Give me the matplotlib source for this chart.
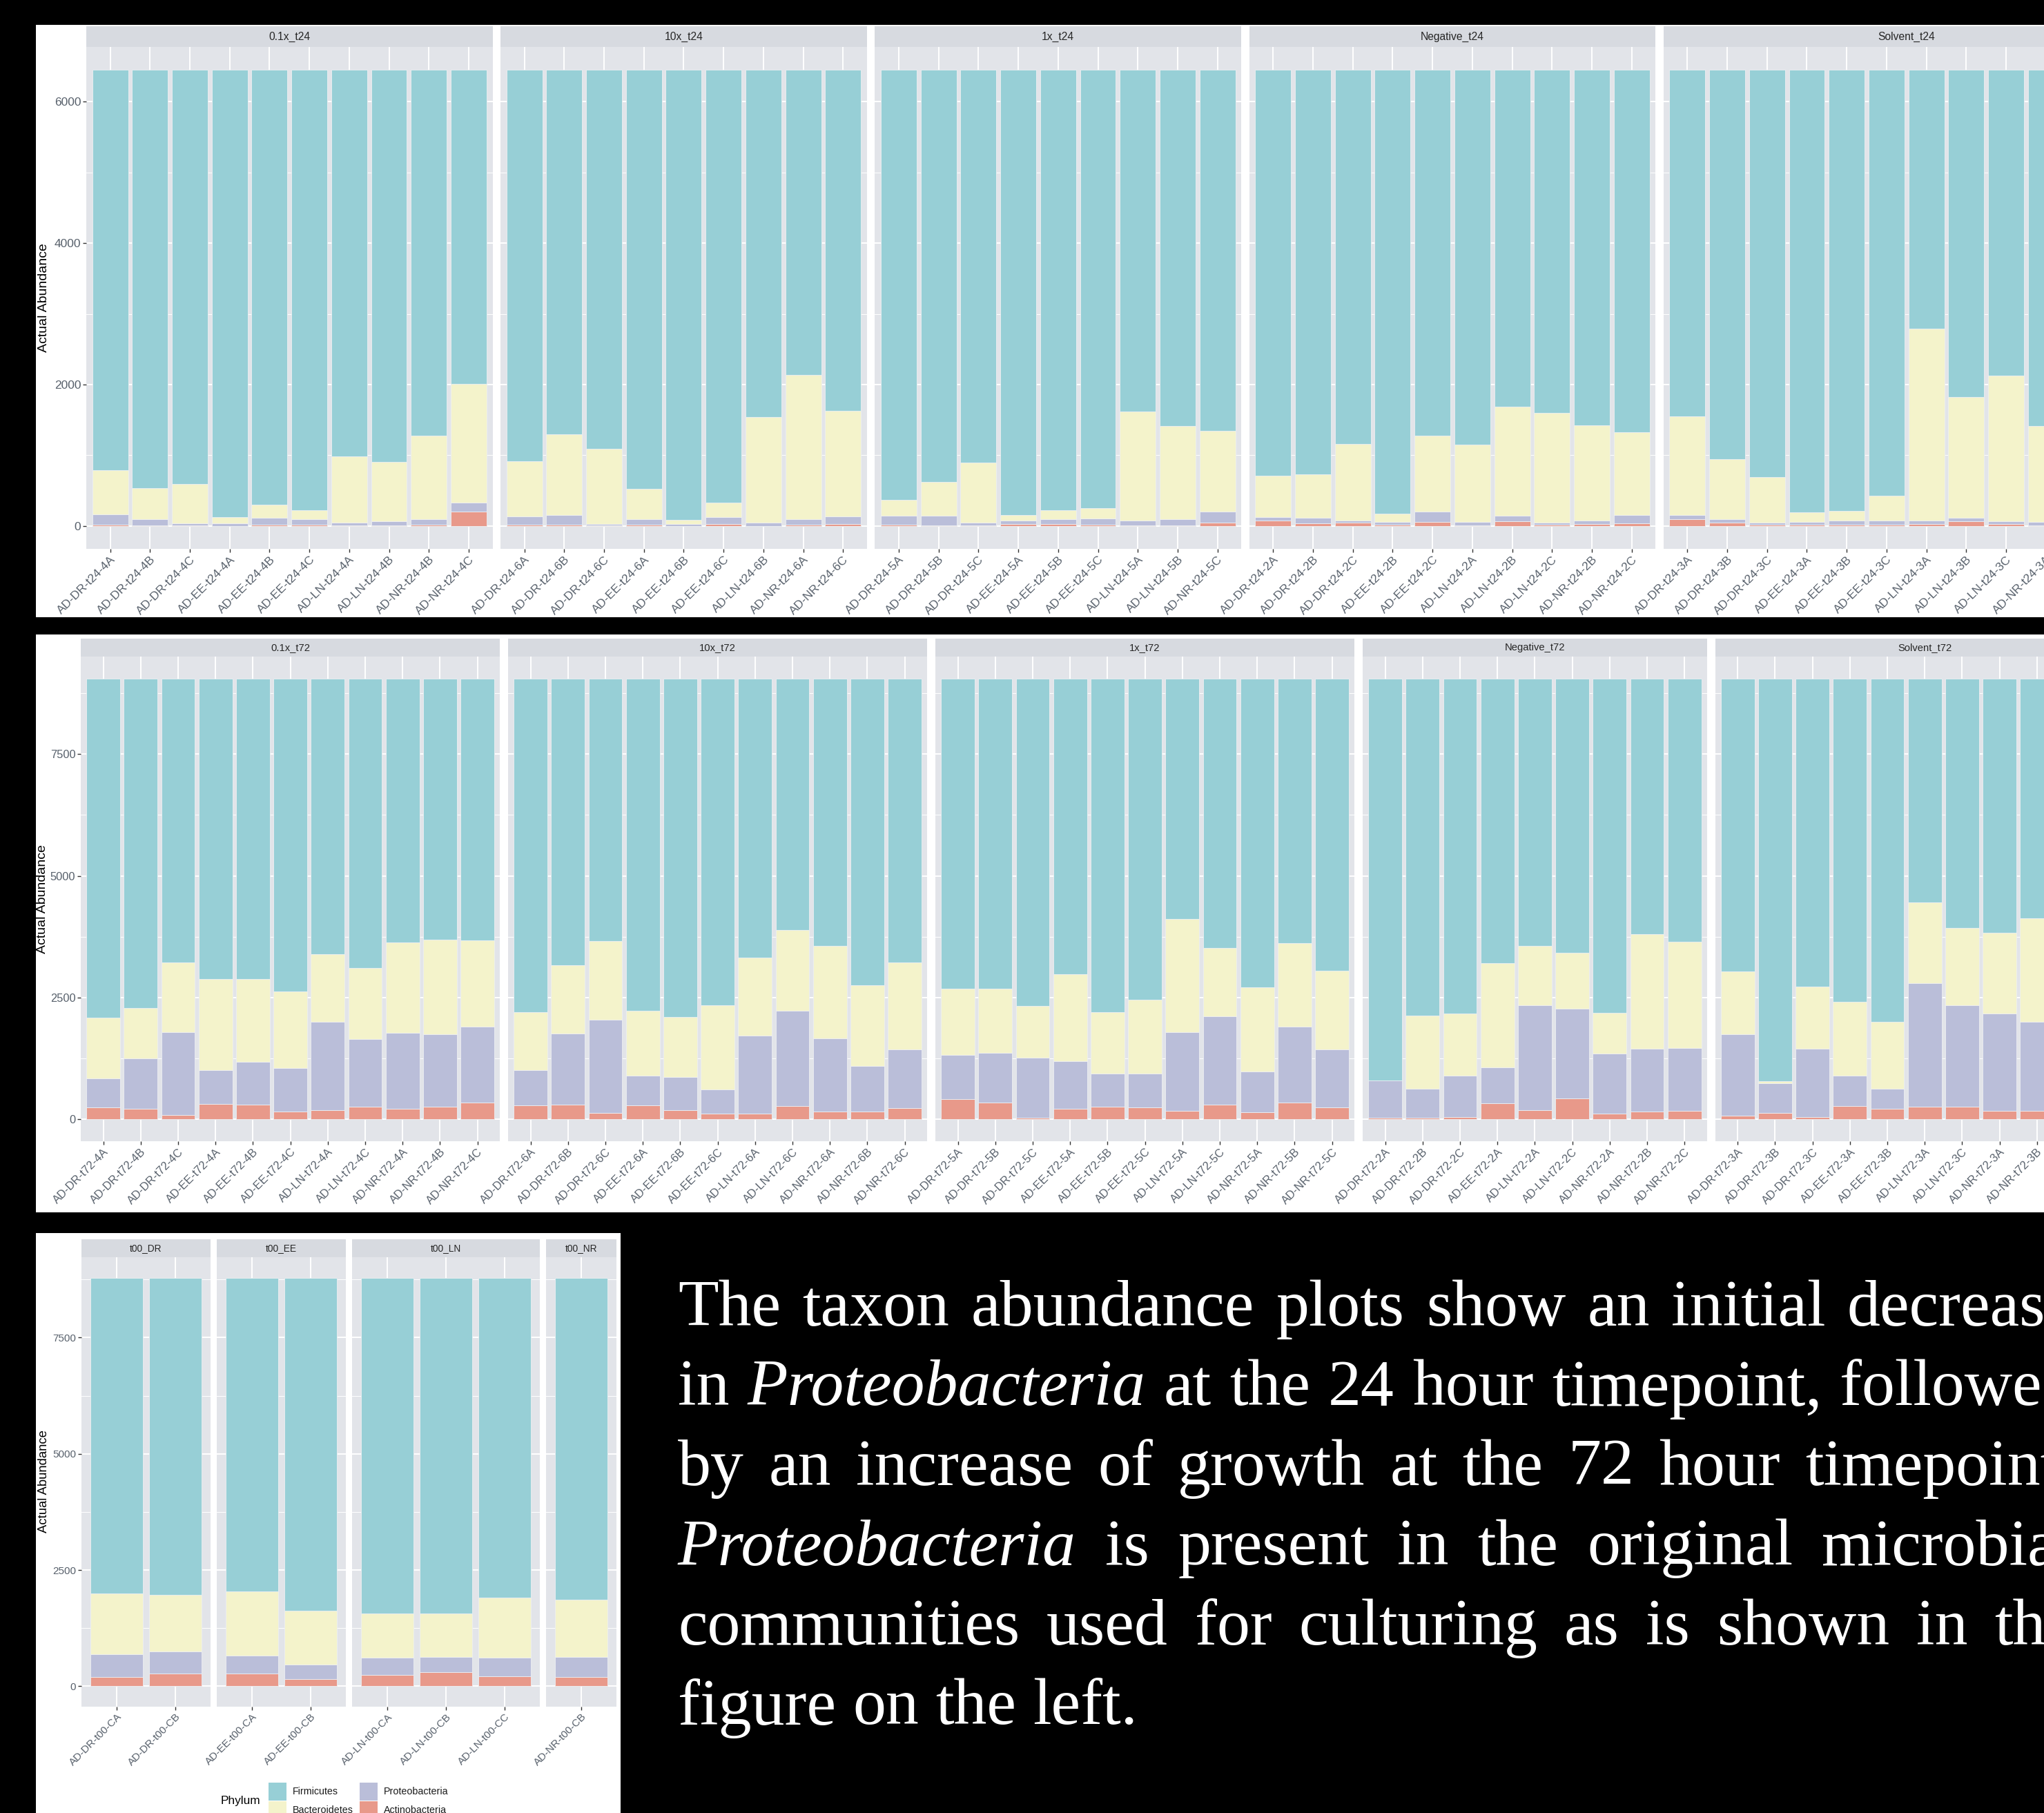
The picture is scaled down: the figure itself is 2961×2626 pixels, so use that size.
import numpy as np
import matplotlib.pyplot as plt
from matplotlib.patches import Rectangle
from matplotlib.ticker import FixedLocator

plt.rcParams['font.family'] = ['Liberation Sans', 'DejaVu Sans']

# ---------------- data ----------------
phyla = ['Firmicutes', 'Bacteroidetes', 'Proteobacteria', 'Actinobacteria']
phylum_colors = ['#97CFD6', '#F4F3CB', '#BABED9', '#E8998A']

t24_facets = ['0.1x_t24', '10x_t24', '1x_t24', 'Negative_t24', 'Solvent_t24']
t24_samples = [
    ['AD-DR-t24-4A', 'AD-DR-t24-4B', 'AD-DR-t24-4C', 'AD-EE-t24-4A', 'AD-EE-t24-4B',
     'AD-EE-t24-4C', 'AD-LN-t24-4A', 'AD-LN-t24-4B', 'AD-NR-t24-4B', 'AD-NR-t24-4C'],
    ['AD-DR-t24-6A', 'AD-DR-t24-6B', 'AD-DR-t24-6C', 'AD-EE-t24-6A', 'AD-EE-t24-6B',
     'AD-EE-t24-6C', 'AD-LN-t24-6B', 'AD-NR-t24-6A', 'AD-NR-t24-6C'],
    ['AD-DR-t24-5A', 'AD-DR-t24-5B', 'AD-DR-t24-5C', 'AD-EE-t24-5A', 'AD-EE-t24-5B',
     'AD-EE-t24-5C', 'AD-LN-t24-5A', 'AD-LN-t24-5B', 'AD-NR-t24-5C'],
    ['AD-DR-t24-2A', 'AD-DR-t24-2B', 'AD-DR-t24-2C', 'AD-EE-t24-2B', 'AD-EE-t24-2C',
     'AD-LN-t24-2A', 'AD-LN-t24-2B', 'AD-LN-t24-2C', 'AD-NR-t24-2B', 'AD-NR-t24-2C'],
    ['AD-DR-t24-3A', 'AD-DR-t24-3B', 'AD-DR-t24-3C', 'AD-EE-t24-3A', 'AD-EE-t24-3B',
     'AD-EE-t24-3C', 'AD-LN-t24-3A', 'AD-LN-t24-3B', 'AD-LN-t24-3C', 'AD-NR-t24-3A'],
]
t24_firmicutes = [
    [5657, 5912, 5860, 6319, 6152, 6230, 5460, 5545, 5171, 4440],
    [5529, 5148, 5355, 5919, 6358, 6116, 4912, 4316, 4817],
    [6083, 5830, 5552, 6299, 6230, 6198, 4830, 5034, 5102],
    [5742, 5716, 5289, 6270, 5171, 5302, 4765, 4853, 5030, 5122],
    [4902, 5506, 5758, 6260, 6237, 6020, 3657, 4627, 4325, 5037],
]
t24_bacteroidetes = [
    [623, 440, 551, 92, 180, 125, 938, 833, 1177, 1676],
    [783, 1148, 1062, 433, 59, 206, 1486, 2039, 1499],
    [223, 476, 846, 76, 122, 144, 1545, 1321, 1148],
    [577, 616, 1082, 121, 1079, 1089, 1541, 1545, 1338, 1171],
    [1397, 846, 640, 134, 134, 351, 2711, 1708, 2059, 1351],
]
t24_proteobacteria = [
    [154, 93, 26, 36, 98, 79, 47, 67, 82, 127],
    [122, 138, 23, 82, 30, 98, 49, 75, 104],
    [128, 137, 39, 45, 72, 92, 68, 85, 148],
    [52, 79, 30, 39, 144, 49, 75, 29, 49, 121],
    [53, 52, 29, 36, 63, 63, 52, 46, 33, 52],
]
t24_actinobacteria = [
    [16, 5, 13, 3, 20, 16, 5, 5, 20, 207],
    [16, 16, 10, 16, 3, 30, 3, 20, 30],
    [16, 7, 13, 30, 26, 16, 7, 10, 52],
    [79, 39, 49, 20, 56, 10, 69, 23, 33, 36],
    [98, 46, 23, 20, 16, 16, 30, 69, 33, 10],
]

t72_facets = ['0.1x_t72', '10x_t72', '1x_t72', 'Negative_t72', 'Solvent_t72']
t72_samples = [
    ['AD-DR-t72-4A', 'AD-DR-t72-4B', 'AD-DR-t72-4C', 'AD-EE-t72-4A', 'AD-EE-t72-4B', 'AD-EE-t72-4C',
     'AD-LN-t72-4A', 'AD-LN-t72-4C', 'AD-NR-t72-4A', 'AD-NR-t72-4B', 'AD-NR-t72-4C'],
    ['AD-DR-t72-6A', 'AD-DR-t72-6B', 'AD-DR-t72-6C', 'AD-EE-t72-6A', 'AD-EE-t72-6B', 'AD-EE-t72-6C',
     'AD-LN-t72-6A', 'AD-LN-t72-6C', 'AD-NR-t72-6A', 'AD-NR-t72-6B', 'AD-NR-t72-6C'],
    ['AD-DR-t72-5A', 'AD-DR-t72-5B', 'AD-DR-t72-5C', 'AD-EE-t72-5A', 'AD-EE-t72-5B', 'AD-EE-t72-5C',
     'AD-LN-t72-5A', 'AD-LN-t72-5C', 'AD-NR-t72-5A', 'AD-NR-t72-5B', 'AD-NR-t72-5C'],
    ['AD-DR-t72-2A', 'AD-DR-t72-2B', 'AD-DR-t72-2C', 'AD-EE-t72-2A', 'AD-LN-t72-2A',
     'AD-LN-t72-2C', 'AD-NR-t72-2A', 'AD-NR-t72-2B', 'AD-NR-t72-2C'],
    ['AD-DR-t72-3A', 'AD-DR-t72-3B', 'AD-DR-t72-3C', 'AD-EE-t72-3A', 'AD-EE-t72-3B',
     'AD-LN-t72-3A', 'AD-LN-t72-3C', 'AD-NR-t72-3A', 'AD-NR-t72-3B'],
]
t72_firmicutes = [
    [6965, 6772, 5828, 6173, 6173, 6427, 5658, 5937, 5413, 5361, 5375],
    [6857, 5885, 5390, 6828, 6946, 6710, 5725, 5168, 5484, 6300, 5828],
    [6375, 6375, 6725, 6064, 6852, 6602, 4941, 5536, 6338, 5432, 5998],
    [8250, 6927, 6875, 5838, 5493, 5635, 6871, 5243, 5399],
    [6012, 8272, 6324, 6644, 7045, 4592, 5121, 5220, 4923],
]
t72_bacteroidetes = [
    [1250, 1033, 1430, 1863, 1693, 1571, 1392, 1472, 1863, 1939, 1774],
    [1184, 1401, 1618, 1321, 1236, 1732, 1608, 1660, 1910, 1660, 1788],
    [1359, 1312, 1056, 1788, 1264, 1514, 2326, 1396, 1736, 1722, 1613],
    [3, 1500, 1283, 2141, 1213, 1151, 830, 2354, 2184],
    [1293, 37, 1273, 1505, 1373, 1656, 1585, 1665, 2127],
]
t72_proteobacteria = [
    [594, 1033, 1712, 703, 887, 901, 1821, 1386, 1562, 1495, 1561],
    [731, 1467, 1919, 623, 689, 500, 1609, 1958, 1496, 930, 1203],
    [906, 1023, 1236, 990, 684, 698, 1618, 1821, 830, 1556, 1203],
    [769, 595, 845, 746, 2165, 1835, 1241, 1297, 1302],
    [1670, 614, 1415, 627, 424, 2543, 2085, 2000, 1835],
]
t72_actinobacteria = [
    [241, 212, 80, 311, 297, 151, 179, 255, 212, 255, 340],
    [278, 297, 123, 278, 179, 108, 108, 264, 160, 160, 231],
    [410, 340, 33, 208, 250, 236, 165, 297, 146, 340, 236],
    [28, 28, 47, 325, 179, 429, 108, 156, 165],
    [75, 127, 38, 274, 208, 259, 259, 165, 165],
]

t00_facets = ['t00_DR', 't00_EE', 't00_LN', 't00_NR']
t00_samples = [['AD-DR-t00-CA', 'AD-DR-t00-CB'], ['AD-EE-t00-CA', 'AD-EE-t00-CB'],
               ['AD-LN-t00-CA', 'AD-LN-t00-CB', 'AD-LN-t00-CC'], ['AD-NR-t00-CB']]
t00_firmicutes = [[6800, 6830], [6750, 7160], [7230, 7230, 6880], [6920]]
t00_bacteroidetes = [[1296, 1207], [1376, 1164], [941, 931, 1291], [1236]]
t00_proteobacteria = [[491, 485], [387, 312], [371, 322, 411], [436]]
t00_actinobacteria = [[203, 268], [277, 154], [248, 307, 208], [198]]

caption_lines = [
    'The taxon abundance plots show an initial decrease',
    'in Proteobacteria at the 24 hour timepoint, followed',
    'by an increase of growth at the 72 hour timepoint.',
    'Proteobacteria is present in the original microbial',
    'communities used for culturing as is shown in the',
    'figure on the left.',
]
italic_words = ['Proteobacteria']

# ---------------- figure ----------------
W, H = 2961, 2626
fig = plt.figure(figsize=(W / 100, H / 100), dpi=100, facecolor='black')

panel_bg = '#E2E4E9'
strip_bg = '#D7DAE0'
tick_col = '#57606B'


def box(x0, y0, x1, y1, color, z=-5):
    # rectangle given in pixel coords, origin at top left
    fig.add_artist(Rectangle((x0 / W, 1 - y1 / H), (x1 - x0) / W, (y1 - y0) / H,
                             transform=fig.transFigure, facecolor=color,
                             edgecolor='none', zorder=z))


def draw_row(facets, samples, firm, bact, prot, act, left, unit, gap,
             strip_top, strip_h, panel_bottom, yticks, yminor, fs, extra=0):
    totals = [np.array(f) + np.array(b) + np.array(p) + np.array(a)
              for f, b, p, a in zip(firm, bact, prot, act)]
    ymax = max(t.max() for t in totals)
    x = left
    panel_top = strip_top + strip_h
    for i, name in enumerate(facets):
        n_slots = len(samples[i]) + (extra if i == len(facets) - 1 else 0)
        w = (n_slots + 0.2) * unit
        ax = fig.add_axes([x / W, 1 - panel_bottom / H, w / W, (panel_bottom - panel_top) / H])
        ax.set_facecolor(panel_bg)
        pos = np.arange(1, len(samples[i]) + 1)
        bottom = np.zeros(len(pos))
        stacks = [act[i], prot[i], bact[i], firm[i]]
        for vals, col in zip(stacks, phylum_colors[::-1]):
            ax.bar(pos, vals, bottom=bottom, width=0.9, color=col,
                   edgecolor='#EDEFF2', linewidth=0.6)
            bottom += np.array(vals)
        ax.set_xlim(0.4, n_slots + 0.6)
        ax.set_ylim(-0.05 * ymax, 1.05 * ymax)
        ax.set_xticks(pos)
        ax.set_xticklabels(samples[i], rotation=45, ha='right', va='top',
                           rotation_mode='anchor', fontsize=fs, color=tick_col)
        ax.set_yticks(yticks)
        ax.yaxis.set_minor_locator(FixedLocator(yminor))
        ax.set_axisbelow(True)
        ax.grid(True, which='major', color='white', linewidth=1.4)
        ax.grid(True, which='minor', axis='y', color='white', linewidth=0.7)
        ax.tick_params(axis='x', length=3.5, width=1, color='#333333', pad=2)
        ax.tick_params(axis='y', which='minor', length=0)
        if i == 0:
            ax.set_yticklabels([str(v) for v in yticks], fontsize=fs, color=tick_col)
            ax.tick_params(axis='y', which='major', length=3.5, width=1, color='#333333', pad=2)
        else:
            ax.tick_params(axis='y', which='major', length=0, labelleft=False)
        for sp in ax.spines.values():
            sp.set_visible(False)
        box(x, strip_top, x + w, panel_top, strip_bg, z=1)
        fig.text((x + w / 2) / W, 1 - (strip_top + strip_h / 2) / H, name,
                 ha='center', va='center', fontsize=fs * 0.9, color='#262626')
        x += w + gap


# white backgrounds of the three pasted plots
box(52, 36, W, 894, 'white')
box(52, 919, W, 1756, 'white')
box(52, 1786, 899, H, 'white')

# 24 hour plot
draw_row(t24_facets, t24_samples, t24_firmicutes, t24_bacteroidetes, t24_proteobacteria,
         t24_actinobacteria, left=125, unit=57.7, gap=11.5, strip_top=38, strip_h=30,
         panel_bottom=795, yticks=[0, 2000, 4000, 6000], yminor=[1000, 3000, 5000],
         fs=12.5, extra=2)
fig.text(64 / W, 1 - 431 / H, 'Actual Abundance', rotation=90, ha='center', va='center',
         fontsize=14, color='black')

# 72 hour plot
draw_row(t72_facets, t72_samples, t72_firmicutes, t72_bacteroidetes, t72_proteobacteria,
         t72_actinobacteria, left=117, unit=54.2, gap=12, strip_top=925, strip_h=26,
         panel_bottom=1653, yticks=[0, 2500, 5000, 7500], yminor=[1250, 3750, 6250, 8750],
         fs=11.8, extra=2)
fig.text(62 / W, 1 - 1302 / H, 'Actual Abundance', rotation=90, ha='center', va='center',
         fontsize=14, color='black')

# time zero plot
draw_row(t00_facets, t00_samples, t00_firmicutes, t00_bacteroidetes, t00_proteobacteria,
         t00_actinobacteria, left=118, unit=85, gap=9, strip_top=1795, strip_h=26,
         panel_bottom=2472, yticks=[0, 2500, 5000, 7500], yminor=[1250, 3750, 6250, 8750],
         fs=11)
fig.text(64 / W, 1 - 2146 / H, 'Actual Abundance', rotation=90, ha='center', va='center',
         fontsize=13.3, color='black')

# legend (title on the left, two columns)
fig.text(320 / W, 1 - 2608 / H, 'Phylum', ha='left', va='center', fontsize=12.4, color='black')
key_x = [389, 389, 521, 521]
key_y = [2582, 2609, 2582, 2609]
for ph, col, kx, ky in zip(phyla, phylum_colors, key_x, key_y):
    box(kx, ky, kx + 26, ky + 26, col, z=2)
    fig.text((kx + 35) / W, 1 - (ky + 13) / H, ph, ha='left', va='center',
             fontsize=10.3, color='#1A1A1A')

# justified caption on the right
renderer = fig.canvas.get_renderer()
cap_left, cap_right = 982, 3006
baseline0, line_step = 1920, 115.5
space_w = None
for k, line in enumerate(caption_lines):
    words = line.split()
    items = []
    for wd in words:
        t = fig.text(0, 0, wd, fontsize=69, family=['Liberation Serif', 'DejaVu Serif'],
                     style='italic' if wd.strip('.,') in italic_words else 'normal',
                     color='white', ha='left', va='baseline')
        items.append((t, t.get_window_extent(renderer).width))
    if space_w is None:
        sp = fig.text(0, 0, 'a a', fontsize=69, family=['Liberation Serif'])
        sp2 = fig.text(0, 0, 'aa', fontsize=69, family=['Liberation Serif'])
        space_w = sp.get_window_extent(renderer).width - sp2.get_window_extent(renderer).width
        sp.remove()
        sp2.remove()
    total = sum(wd_w for _, wd_w in items)
    if k < len(caption_lines) - 1 and len(items) > 1:
        gap = (cap_right - cap_left - total) / (len(items) - 1)
    else:
        gap = space_w
    xpos = cap_left
    y = baseline0 + k * line_step
    for t, wd_w in items:
        t.set_position((xpos / W, 1 - y / H))
        xpos += wd_w + gap

fig.savefig('out.png', dpi=100, facecolor='black')
